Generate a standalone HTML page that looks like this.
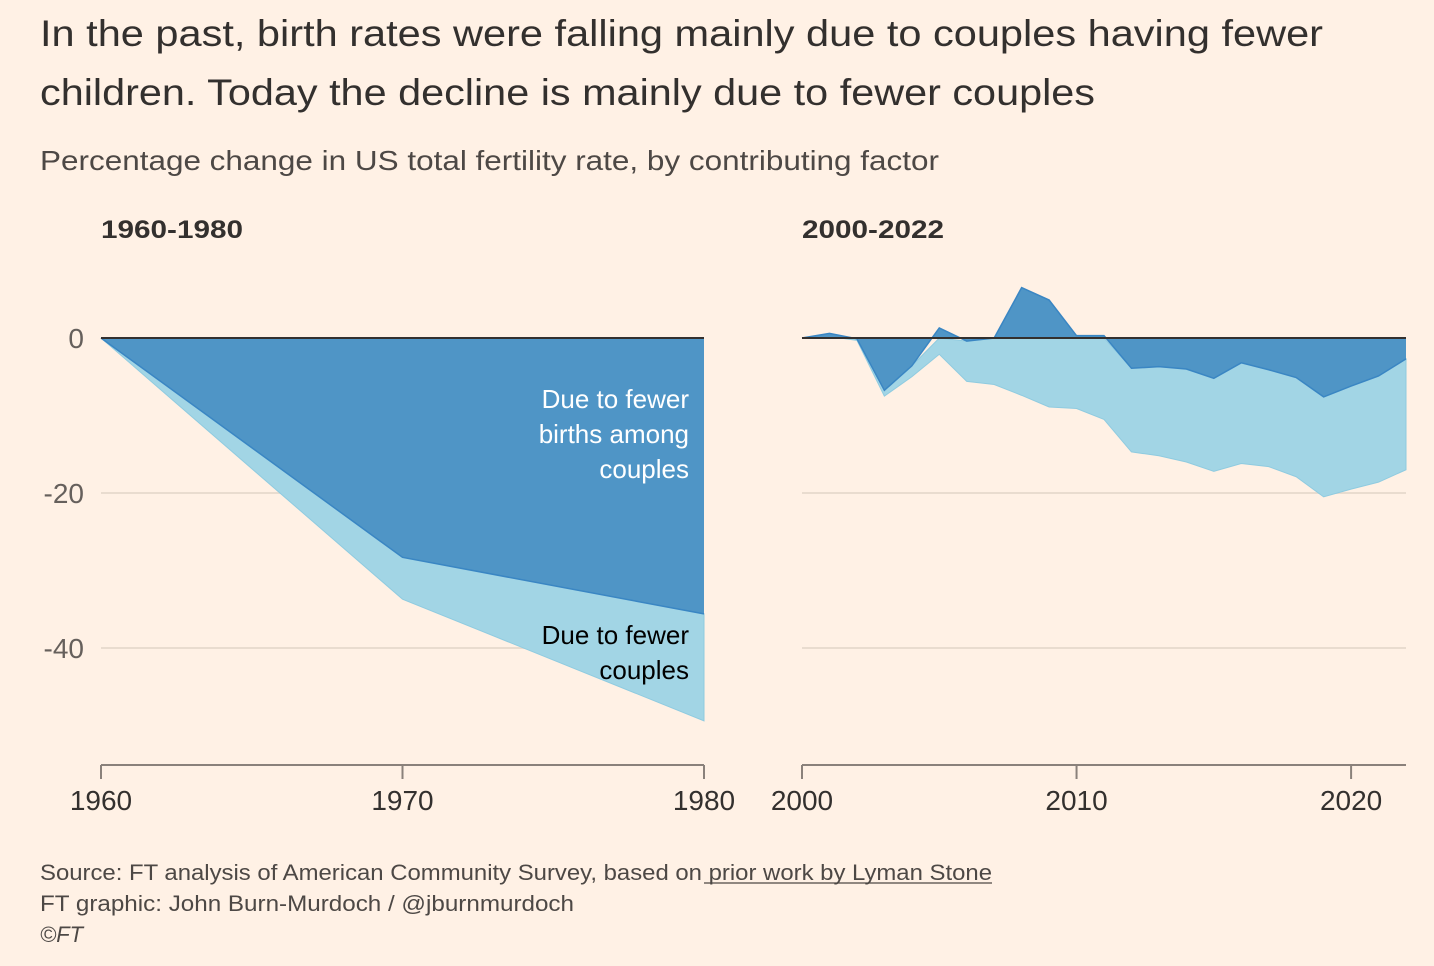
<!DOCTYPE html>
<html><head><meta charset="utf-8"><style>
html,body{margin:0;padding:0;background:#fff1e5;}
svg{display:block;font-family:"Liberation Sans",sans-serif;}
</style></head><body>
<svg id="chart" width="1434" height="966" viewBox="0 0 1434 966">
<rect width="1434" height="966" fill="#fff1e5"/>
<text x="40" y="46" font-size="37" fill="#33302e" textLength="1283" lengthAdjust="spacingAndGlyphs">In the past, birth rates were falling mainly due to couples having fewer</text>
<text x="40" y="105" font-size="37" fill="#33302e" textLength="1055" lengthAdjust="spacingAndGlyphs">children. Today the decline is mainly due to fewer couples</text>
<text x="40" y="170" font-size="28" fill="#4d4845" textLength="899" lengthAdjust="spacingAndGlyphs">Percentage change in US total fertility rate, by contributing factor</text>
<text x="101" y="238" font-size="25" font-weight="bold" fill="#33302e" textLength="142" lengthAdjust="spacingAndGlyphs">1960-1980</text>
<text x="802" y="238" font-size="25" font-weight="bold" fill="#33302e" textLength="142" lengthAdjust="spacingAndGlyphs">2000-2022</text>
<g id="grid"></g>
<g id="left"></g>
<g id="right"></g>
<g id="axes"></g>
<text text-anchor="end" font-size="26" fill="#ffffff"><tspan x="689" y="408">Due to fewer</tspan><tspan x="689" y="443">births among</tspan><tspan x="689" y="478">couples</tspan></text>
<text text-anchor="end" font-size="26" fill="#000000"><tspan x="689" y="644">Due to fewer</tspan><tspan x="689" y="679">couples</tspan></text>
<text x="40" y="880" font-size="22" fill="#4d4845" textLength="952" lengthAdjust="spacingAndGlyphs">Source: FT analysis of American Community Survey, based on <tspan>prior work by Lyman Stone</tspan></text>
<line x1="704" y1="883" x2="992" y2="883" stroke="#4d4845" stroke-width="1.2"/>
<text x="40" y="911" font-size="22" fill="#4d4845" textLength="534" lengthAdjust="spacingAndGlyphs">FT graphic: John Burn-Murdoch / @jburnmurdoch</text>
<text x="40" y="942" font-size="22" font-style="italic" fill="#4d4845">©FT</text>
</svg>
<script>
const leftYears=[1960,1970,1980];
const leftBirths=[0,-28.3,-35.6];
const leftCouples=[0,-5.4,-13.8];
const rightYears=[2000,2001,2002,2003,2004,2005,2006,2007,2008,2009,2010,2011,2012,2013,2014,2015,2016,2017,2018,2019,2020,2021,2022];
const rightBirths=[0,0.6,-0.1,-6.75,-3.6,1.3,-0.4,0,6.5,4.9,0.3,0.3,-3.9,-3.7,-4.0,-5.2,-3.2,-4.1,-5.1,-7.6,-6.2,-4.9,-2.7];
const rightCouples=[0,0.2,-0.2,-0.75,-1.4,-2.1,-5.2,-6.0,-7.4,-8.9,-9.1,-10.5,-10.8,-11.5,-12.0,-12.0,-13.0,-12.5,-12.8,-12.9,-13.3,-13.7,-14.3];
const yTicks=[0,-20,-40];
const leftXTicks=[1960,1970,1980];
const rightXTicks=[2000,2010,2020];

const NS="http://www.w3.org/2000/svg";
const y=v=>338-v*7.75;
const xl=t=>101+(t-1960)*(704-101)/20;
const xr=t=>802+(t-2000)*(1406-802)/22;
function mk(tag,attrs,parent){const e=document.createElementNS(NS,tag);for(const k in attrs)e.setAttribute(k,attrs[k]);parent.appendChild(e);return e;}
const grid=document.getElementById('grid');
yTicks.forEach(v=>{
  if(v!==0){
    const g1=mk('line',{x1:101,x2:704,y1:y(v),y2:y(v),stroke:'#e9dccf','stroke-width':2},grid);
    
    
    const g2=mk('line',{x1:802,x2:1406,y1:y(v),y2:y(v),stroke:'#e9dccf','stroke-width':2},grid);
    
    
  }
  const t=mk('text',{x:84,y:y(v)+10,'text-anchor':'end','font-size':28,fill:'#66605c'},grid);
  t.textContent=String(v);
  
  
});
function draw(gid,years,births,couples,xf,name){
  const g=document.getElementById(gid);
  const n=years.length;
  const bNeg=births.map(b=>Math.min(b,0));
  const tot=couples.map((c,i)=>c+bNeg[i]);
  let d='M'+years.map((t,i)=>xf(t)+','+y(bNeg[i])).join('L');
  for(let i=n-1;i>=0;i--)d+='L'+xf(years[i])+','+y(tot[i]);
  const a1=mk('path',{d:d+'Z',fill:'#a2d5e5',stroke:'#8fcbe0','stroke-width':1},g);
  
  
  let d2='M'+years.map((t,i)=>xf(t)+','+y(births[i])).join('L');
  d2+='L'+xf(years[n-1])+','+y(0)+'L'+xf(years[0])+','+y(0)+'Z';
  const a2=mk('path',{d:d2,fill:'#4f95c6'},g);
  
  
  const l=mk('path',{d:'M'+years.map((t,i)=>xf(t)+','+y(births[i])).join('L'),fill:'none',stroke:'#3a86c3','stroke-width':1.5},g);
  
  
  const z=mk('line',{x1:xf(years[0]),x2:xf(years[n-1]),y1:y(0),y2:y(0),stroke:'#33302e','stroke-width':2},g);
  
  
}
draw('left',leftYears,leftBirths,leftCouples,xl,'left');
draw('right',rightYears,rightBirths,rightCouples,xr,'right');
const ax=document.getElementById('axes');
[[xl,1960,1980,leftXTicks,'left'],[xr,2000,2022,rightXTicks,'right']].forEach(([xf,a,b,ticks,nm])=>{
  const l=mk('line',{x1:xf(a),x2:xf(b),y1:765,y2:765,stroke:'#8a817b','stroke-width':2},ax);
  
  
  ticks.forEach(t=>{
    const tk=mk('line',{x1:xf(t),x2:xf(t),y1:765,y2:779,stroke:'#8a817b','stroke-width':2},ax);
    
    
    const tx=mk('text',{x:xf(t),y:810,'text-anchor':'middle','font-size':28,fill:'#33302e'},ax);
    tx.textContent=String(t);
    
    
  });
});
</script>
</body></html>
